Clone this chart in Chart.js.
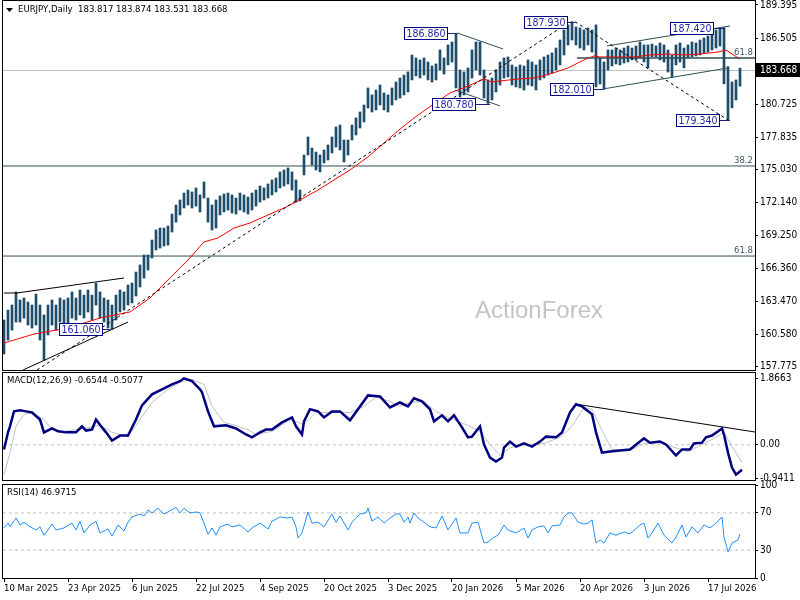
<!DOCTYPE html>
<html>
<head>
<meta charset="utf-8">
<title>EURJPY Daily</title>
<script src="https://cdn.jsdelivr.net/npm/chart.js@4.4.1/dist/chart.umd.min.js"></script>
<style>
  html, body { margin: 0; padding: 0; background: #fff; }
  #wrap { position: relative; width: 800px; height: 600px; overflow: hidden; background: #fff; }
  canvas { position: absolute; left: 0; }
  #cMain { top: -20px; }
  #cMacd { top: 353px; }
  #cRsi { top: 465px; }
</style>
</head>
<body>
<div id="wrap">
  <canvas id="cMain" width="800" height="412"></canvas>
  <canvas id="cMacd" width="800" height="148"></canvas>
  <canvas id="cRsi" width="800" height="135"></canvas>
</div>
<script>
// ---- data ----
// one drawn bar per two trading days, bar index = k * SAMPLE_STEP
const SAMPLE_STEP = 2;
const headerSymbol = 'EURJPY,Daily';
const headerValues = ['183.817', '183.874', '183.531', '183.668'];
const lastClose = 183.668;

const priceHigh = [161.86,162.73,163.17,164.31,163.61,163.78,163.43,163.17,164.13,163.17,
  162.30,163.17,163.61,163.17,163.78,163.61,163.78,164.31,163.78,164.48,
  164.04,164.48,164.04,165.09,164.31,163.78,163.61,163.17,164.04,164.48,
  164.31,164.92,165.09,166.05,166.67,167.54,167.54,168.85,169.73,169.90,
  169.90,170.07,171.12,171.91,172.35,172.96,173.22,173.05,173.40,172.79,
  173.92,172.52,171.91,172.35,172.70,172.87,172.96,172.79,172.52,172.96,
  172.79,172.61,172.96,173.22,173.57,173.40,173.75,174.10,174.27,174.80,
  174.97,175.15,174.80,174.10,173.22,176.28,177.86,176.89,176.54,176.28,
  176.72,177.16,177.86,178.73,178.90,177.59,177.59,178.90,179.52,180.04,
  180.65,182.14,181.53,181.96,182.40,181.70,181.53,182.14,182.66,183.01,
  183.27,183.54,185.02,184.76,184.59,184.76,184.41,184.06,184.24,185.46,
  184.76,185.90,186.16,186.86,183.71,183.54,183.89,185.46,186.16,186.16,
  183.71,182.84,183.01,183.71,184.41,184.76,184.85,184.15,183.97,184.15,
  184.06,184.59,184.41,184.15,184.59,184.85,185.02,185.20,185.63,186.33,
  187.21,187.65,187.93,187.47,187.38,187.21,187.38,187.21,187.65,184.76,
  184.41,185.46,185.46,185.63,185.46,185.63,185.81,185.63,185.81,186.16,
  185.90,185.90,185.98,185.81,186.07,185.90,185.46,185.02,185.90,186.07,
  185.63,185.90,186.16,186.07,186.33,186.51,186.68,186.77,187.21,187.38,
  187.42,184.00,182.66,182.84,183.87];

const priceLow = [158.89,160.11,160.98,161.68,161.68,162.03,161.42,161.16,161.42,160.11,
  158.36,160.55,161.42,160.98,161.68,161.42,161.42,162.03,161.86,162.30,
  162.03,162.56,161.86,163.17,162.03,161.68,161.16,161.06,161.86,162.56,
  162.73,163.17,163.35,163.96,164.74,165.53,166.23,167.28,167.98,168.15,
  168.33,168.41,169.55,170.42,171.04,171.65,171.91,171.65,171.82,171.30,
  172.52,170.42,169.73,169.90,171.04,171.30,171.47,171.21,171.12,171.47,
  171.30,171.12,171.47,171.82,172.17,172.35,172.52,172.79,173.05,173.40,
  173.57,173.75,173.22,172.17,172.26,174.53,176.28,175.41,174.97,174.80,
  175.58,175.84,176.46,176.98,176.72,175.67,176.28,177.59,178.03,178.64,
  179.17,180.39,180.04,180.22,180.65,180.22,180.04,180.65,181.09,181.26,
  181.53,181.79,182.84,183.19,183.01,183.27,182.84,182.66,182.84,183.71,
  183.36,184.15,184.41,182.14,181.35,181.53,181.79,183.01,183.71,183.27,
  181.26,180.78,181.09,181.79,182.40,183.01,183.10,182.40,182.23,182.14,
  181.96,182.40,182.31,181.96,182.84,183.01,183.27,183.45,183.71,184.15,
  185.02,185.90,186.33,185.90,185.63,185.46,185.90,185.28,182.23,182.49,
  182.01,183.71,184.06,184.24,184.15,184.32,184.41,184.59,184.59,184.76,
  184.41,183.89,184.85,184.85,184.59,184.41,183.54,183.10,184.15,184.41,
  183.89,184.76,184.85,184.94,185.02,185.20,185.28,185.46,185.63,185.81,
  182.50,179.34,180.40,181.09,182.30];

// moving average (red)
const maBars = [0,15,32,48,63,73,82,92,100,107,115,123,132,140,148,157,165,173,182,190,
  198,207,215,223,232,240,244,248,257,265,273,282,290,295,298,307,315,323,332,340,
  348,357,361,364,368];
const maValues = [159.85,160.63,161.16,162.03,162.56,163.78,165.36,167.10,168.68,169.03,
  169.90,170.34,171.04,171.65,172.35,173.22,174.10,174.97,176.11,177.33,
  178.55,179.78,180.74,181.70,182.31,182.92,182.66,182.75,182.92,183.01,
  183.36,183.89,184.59,184.94,184.85,184.85,184.85,185.02,185.11,185.02,
  185.11,185.28,185.46,185.11,184.67];

// MACD(12,26,9)
const macdBars = [0,2,3,5,8,11,14,18,20,24,27,31,36,39,41,44,46,49,51,54,
  58,62,66,69,74,79,84,88,90,94,98,99,102,105,111,116,121,124,128,131,
  134,139,144,146,149,150,153,157,160,164,168,173,177,182,188,193,198,202,205,209,
  213,215,219,222,225,229,232,234,238,240,243,246,249,250,253,256,260,264,268,271,
  276,279,283,286,289,294,296,299,303,308,313,318,320,323,328,331,336,339,343,345,
  349,351,354,359,360,362,364,366,369];
const macdValues = [-0.13,0.35,0.52,0.94,0.97,0.94,0.91,0.71,0.35,0.46,
  0.38,0.35,0.35,0.52,0.40,0.43,0.71,0.49,0.35,0.12,
  0.26,0.26,0.71,1.11,1.42,1.56,1.70,1.79,1.87,1.79,
  1.56,1.48,0.94,0.52,0.55,0.46,0.29,0.21,0.35,0.43,
  0.43,0.63,0.77,0.52,0.29,0.66,1.00,0.94,0.77,0.94,
  0.94,0.69,1.00,1.39,1.36,1.05,1.19,1.08,1.31,1.22,
  1.00,0.66,0.83,0.66,0.83,0.49,0.21,0.23,0.52,0.01,
  -0.36,-0.47,-0.36,-0.08,0.09,-0.05,0.04,-0.05,0.09,0.23,
  0.21,0.35,0.91,1.14,1.08,0.86,0.35,-0.22,-0.19,-0.16,
  -0.13,0.09,0.18,0.06,0.09,0.01,-0.30,-0.13,-0.13,0.04,
  0.06,0.21,0.26,0.46,0.29,-0.22,-0.64,-0.84,-0.70];
const signalBars = [0,3,6,10,14,20,24,31,40,48,54,62,68,74,82,88,94,100,104,110,
  114,122,126,134,143,150,156,164,173,180,186,193,198,203,210,216,223,231,238,243,
  248,253,262,270,278,284,290,294,300,304,313,320,328,334,342,348,354,360,364,369];
const signalValues = [-0.84,-0.22,0.52,0.86,0.91,0.71,0.43,0.38,0.46,0.55,
  0.35,0.23,0.71,1.19,1.56,1.76,1.84,1.70,1.08,0.63,
  0.57,0.43,0.29,0.38,0.71,0.57,0.91,0.91,0.91,1.08,
  1.34,1.22,1.08,1.19,1.22,0.94,0.74,0.57,0.38,0.01,
  -0.30,-0.08,0.01,0.04,0.21,0.52,1.05,1.00,0.29,-0.13,
  -0.16,0.04,0.06,-0.05,-0.19,-0.02,0.15,0.35,-0.05,-0.50];
const macdTicks = [1.8663, 0, -0.9411];
const macdTitle = 'MACD(12,26,9) -0.6544 -0.5077';

// RSI(14)
const rsiBars = [0,2,3,6,8,10,13,16,18,20,24,26,30,34,36,38,40,43,46,48,
  52,54,57,60,62,64,68,70,72,74,77,80,82,86,88,90,93,96,98,100,
  102,104,106,108,112,114,118,122,124,128,132,134,138,142,144,146,147,149,152,154,
  157,160,164,166,168,172,174,178,181,182,184,187,190,193,196,198,200,202,203,205,
  207,210,213,216,219,222,226,228,232,234,237,240,242,245,247,250,252,256,260,262,
  264,267,270,272,274,278,280,282,284,287,290,292,294,296,298,300,303,306,310,313,
  318,320,322,324,327,330,334,336,339,341,344,347,350,353,356,359,360,362,364,367,368];
const rsiValues = [53.8,59,55,64.5,57,60,55,51.6,55,46,58,51.6,53.8,59,51.6,61,48.4,57,61,48.4,
  52.7,45,57,50.5,60,65.6,68.8,66.7,73,70,75,68.8,71,76,70,75,70,71,70,59,
  47,53.8,46,55,58,55,57,49.5,53.8,59,52.7,61,65.6,64.5,65.6,55,43,48.4,71,59,
  60,55,68.8,60,66.7,51.6,60,68.8,70,75,61,65.6,59,64.5,68.8,68.8,60,65.6,59,70,
  64.5,60,55,53.8,66.7,51.6,64.5,48.4,48.4,59,60,37.6,38.7,44,46,57,51.6,48.4,53.8,43,
  51.6,55,56,48.4,56,57,65.6,70,70,60,58,59,62.4,37.6,40.9,37.6,48.4,46,49.5,47.3,
  57,59,43,48.4,59,46,37.6,44,57,44,55,48.4,57,53.8,59,65.6,44,28,37.6,40.9,47.3];
const rsiTicks = [100, 70, 30, 0];
const rsiLevels = [70, 30];
const rsiTitle = 'RSI(14) 46.9715';

// axes
const priceTicks = [189.395, 186.505, 183.615, 180.725, 177.835, 175.030, 172.140, 169.250, 166.360, 163.470, 160.580, 157.775];
const dateTickBars = [0, 32, 64, 96, 128, 160, 192, 224, 256, 288, 320, 352];
const dateLabels = ['10 Mar 2025', '23 Apr 2025', '6 Jun 2025', '22 Jul 2025', '4 Sep 2025', '20 Oct 2025',
  '3 Dec 2025', '20 Jan 2026', '5 Mar 2026', '20 Apr 2026', '3 Jun 2026', '17 Jul 2026'];

// drawn objects: [bar, price]
const trendLines = [
  { pts: [[16.5, 157.49], [283, 187.93]], color: '#000000', dash: [3, 3] },
  { pts: [[9.5, 157.49], [62, 161.68]], color: '#000000' },
  { pts: [[0, 164.22], [6.5, 164.22], [60, 165.53]], color: '#000000' },
  { pts: [[226.5, 186.95], [249.5, 185.55]], color: '#2f4f4f' },
  { pts: [[225.5, 181.96], [248, 180.57]], color: '#2f4f4f' },
  { pts: [[285.5, 187.93], [362, 179.34]], color: '#000000', dash: [3, 3] },
  { pts: [[301.5, 185.81], [363, 187.56]], color: '#2f4f4f' },
  { pts: [[299.5, 182.05], [362, 183.89]], color: '#2f4f4f' },
  { pts: [[286.5, 184.76], [375.5, 184.76]], color: '#2f4f4f' }
];
const fibLevels = [
  { price: 175.32, text: '38.2', from: -0.5 },
  { price: 167.45, text: '61.8', from: -0.5 },
  { price: 184.76, text: '61.8', from: 286.5 }
];
const priceLabels = [
  { text: '186.860', bar: 211, price: 186.92, toBar: 226.5 },
  { text: '180.780', bar: 225, price: 180.78, toBar: 243 },
  { text: '187.930', bar: 271, price: 187.93, toBar: 285.5 },
  { text: '182.010', bar: 284, price: 182.01, toBar: 299.5 },
  { text: '187.420', bar: 344, price: 187.42, toBar: 360.5 },
  { text: '179.340', bar: 347, price: 179.34, toBar: 363 },
  { text: '161.060', bar: 38.5, price: 161.06, toBar: 53 }
];
const macdTrend = [[286.5, 1.14], [375.5, 0.36]];

// ---- chart setup ----
const FONT = "'DejaVu Sans Condensed', 'Liberation Sans', Arial, sans-serif";
const X_MIN = -0.5, X_MAX = 375.5;

function pairs(xs, ys) { return xs.map((b, i) => ({ x: b, y: ys[i] })); }
function hline(v, from, color, dash, order) {
  return { type: 'line', data: [{ x: from, y: v }, { x: X_MAX, y: v }], borderColor: color,
    borderWidth: 1, borderDash: dash || [], pointRadius: 0, order: order };
}
function yAxis(min, max, ticks, fmt) {
  return {
    position: 'right', min: min, max: max,
    afterFit: s => { s.width = 45; },
    afterBuildTicks: s => { s.ticks = ticks.map(v => ({ value: v })); },
    ticks: { callback: fmt, font: { family: FONT, size: 10 }, color: '#000', padding: 2, autoSkip: false },
    grid: { drawOnChartArea: false, tickLength: 3, color: '#000' },
    border: { color: '#000' }
  };
}
const xHidden = { type: 'linear', min: X_MIN, max: X_MAX, offset: false, display: false };
const common = {
  responsive: false, animation: false, events: [],
  plugins: { legend: { display: false }, tooltip: { enabled: false } }
};

const framePlugin = {
  id: 'frame',
  afterDraw(chart) {
    const { ctx, chartArea: a } = chart;
    ctx.save();
    ctx.strokeStyle = '#000';
    ctx.lineWidth = 1;
    ctx.strokeRect(a.left - 0.5, a.top - 0.5, a.right - a.left + 1, a.bottom - a.top + 1);
    ctx.restore();
  }
};
function titlePlugin(text) {
  return {
    id: 'panelTitle',
    afterDraw(chart) {
      const { ctx, chartArea: a } = chart;
      ctx.save();
      ctx.font = '9.5px ' + FONT;
      ctx.fillStyle = '#000';
      ctx.textBaseline = 'middle';
      ctx.fillText(text, a.left + 4, a.top + 8);
      ctx.restore();
    }
  };
}

const mainPlugin = {
  id: 'mainMarks',
  beforeDatasetsDraw(chart) {
    const { ctx, chartArea: a } = chart;
    ctx.save();
    ctx.font = '24px "Liberation Sans", Arial, sans-serif';
    ctx.fillStyle = '#c4c4c4';
    ctx.textAlign = 'center';
    ctx.textBaseline = 'middle';
    ctx.fillText('ActionForex', a.left + 536, a.top + 310);
    ctx.restore();
  },
  afterDatasetsDraw(chart) {
    const { ctx, chartArea: a, scales: { x, y } } = chart;
    ctx.save();
    ctx.font = '9.5px ' + FONT;
    ctx.fillStyle = '#44595c';
    ctx.textAlign = 'right';
    ctx.textBaseline = 'bottom';
    fibLevels.forEach(f => ctx.fillText(f.text, a.right - 2, y.getPixelForValue(f.price) - 1));

    ctx.font = '10.5px ' + FONT;
    ctx.textAlign = 'center';
    ctx.textBaseline = 'middle';
    priceLabels.forEach(l => {
      const cx = x.getPixelForValue(l.bar);
      const cy = Math.round(y.getPixelForValue(l.price));
      const w = Math.round(ctx.measureText(l.text).width) + 5;
      const left = Math.round(cx - w / 2);
      ctx.strokeStyle = '#1a237e';
      ctx.lineWidth = 1;
      ctx.beginPath();
      ctx.moveTo(left + w, cy + 0.5);
      ctx.lineTo(x.getPixelForValue(l.toBar), cy + 0.5);
      ctx.stroke();
      ctx.fillStyle = '#fff';
      ctx.fillRect(left, cy - 6, w, 13);
      ctx.strokeStyle = '#000080';
      ctx.strokeRect(left + 0.5, cy - 5.5, w - 1, 12);
      ctx.fillStyle = '#2626a8';
      ctx.fillText(l.text, cx, cy + 1);
    });
    ctx.restore();
  },
  afterDraw(chart) {
    const { ctx, chartArea: a, scales: { y } } = chart;
    ctx.save();
    // header
    ctx.fillStyle = '#000';
    ctx.beginPath();
    ctx.moveTo(a.left + 3, a.top + 7);
    ctx.lineTo(a.left + 10, a.top + 7);
    ctx.lineTo(a.left + 6.5, a.top + 11);
    ctx.closePath();
    ctx.fill();
    ctx.font = '9.5px ' + FONT;
    ctx.textBaseline = 'middle';
    ctx.fillText(headerSymbol + '  ' + headerValues.join(' '), a.left + 15, a.top + 9);
    // last price box
    const py = Math.round(y.getPixelForValue(lastClose));
    ctx.fillRect(a.right + 1, py - 7, 45, 14);
    ctx.fillStyle = '#fff';
    ctx.font = '10px ' + FONT;
    ctx.fillText(lastClose.toFixed(3), a.right + 5, py + 0.5);
    ctx.restore();
  }
};

// main price panel
const mainDatasets = [];
trendLines.forEach(t => mainDatasets.push({
  type: 'line', data: t.pts.map(p => ({ x: p[0], y: p[1] })), borderColor: t.color,
  borderWidth: 1, borderDash: t.dash || [], pointRadius: 0, order: 1
}));
mainDatasets.push({
  type: 'line', data: pairs(maBars, maValues), borderColor: '#ff0000', borderWidth: 1,
  pointRadius: 0, order: 2
});
mainDatasets.push({
  type: 'bar', data: priceHigh.map((h, k) => ({ x: k * SAMPLE_STEP, y: [priceLow[k], h] })),
  backgroundColor: '#1e4d6b', barThickness: 2, borderWidth: 0, grouped: false, order: 5
});
fibLevels.forEach(f => mainDatasets.push(hline(f.price, f.from, '#2f4f4f', null, 8)));
mainDatasets.push(hline(lastClose, X_MIN, '#c0c0c0', null, 10));

new Chart(document.getElementById('cMain'), {
  type: 'bar',
  data: { datasets: mainDatasets },
  options: Object.assign({}, common, {
    layout: { padding: { left: 3, top: 21, right: 0, bottom: 22 } },
    scales: {
      x: xHidden,
      y: yAxis(157.49, 189.74, priceTicks, v => Number(v).toFixed(3))
    }
  }),
  plugins: [framePlugin, mainPlugin]
});

// MACD panel
new Chart(document.getElementById('cMacd'), {
  type: 'line',
  data: {
    datasets: [
      { data: pairs(macdBars, macdValues), borderColor: '#000080', borderWidth: 2.5, pointRadius: 0, order: 0 },
      { data: pairs(signalBars, signalValues), borderColor: '#c0c0c0', borderWidth: 1, pointRadius: 0, order: 1 },
      { data: macdTrend.map(p => ({ x: p[0], y: p[1] })), borderColor: '#000', borderWidth: 1, pointRadius: 0, order: 2 },
      hline(0, X_MIN, '#c0c0c0', [3, 3], 3)
    ]
  },
  options: Object.assign({}, common, {
    layout: { padding: { left: 3, top: 20, right: 0, bottom: 21 } },
    scales: {
      x: xHidden,
      y: yAxis(-0.99, 2.02, macdTicks, v => (v === 0 ? '0.00' : Number(v).toFixed(4)))
    }
  }),
  plugins: [framePlugin, titlePlugin(macdTitle)]
});

// RSI panel with the date axis
new Chart(document.getElementById('cRsi'), {
  type: 'line',
  data: {
    datasets: [
      { data: pairs(rsiBars, rsiValues), borderColor: '#1e90ff', borderWidth: 1, pointRadius: 0, order: 0 }
    ].concat(rsiLevels.map(l => hline(l, X_MIN, '#c0c0c0', [3, 3], 3)))
  },
  options: Object.assign({}, common, {
    layout: { padding: { left: 3, top: 20, right: 0, bottom: 0 } },
    scales: {
      x: {
        type: 'linear', min: X_MIN, max: X_MAX, offset: false,
        afterBuildTicks: s => { s.ticks = dateTickBars.map(v => ({ value: v })); },
        afterFit: s => { s.height = 22; },
        ticks: {
          callback: (v, i) => dateLabels[i], align: 'start', maxRotation: 0, autoSkip: false,
          padding: 1, font: { family: FONT, size: 9.5 }, color: '#000'
        },
        grid: { drawOnChartArea: false, tickLength: 4, color: '#000', offset: false },
        border: { color: '#000' }
      },
      y: yAxis(0, 100, rsiTicks, v => String(v))
    }
  }),
  plugins: [framePlugin, titlePlugin(rsiTitle)]
});
</script>
</body>
</html>
